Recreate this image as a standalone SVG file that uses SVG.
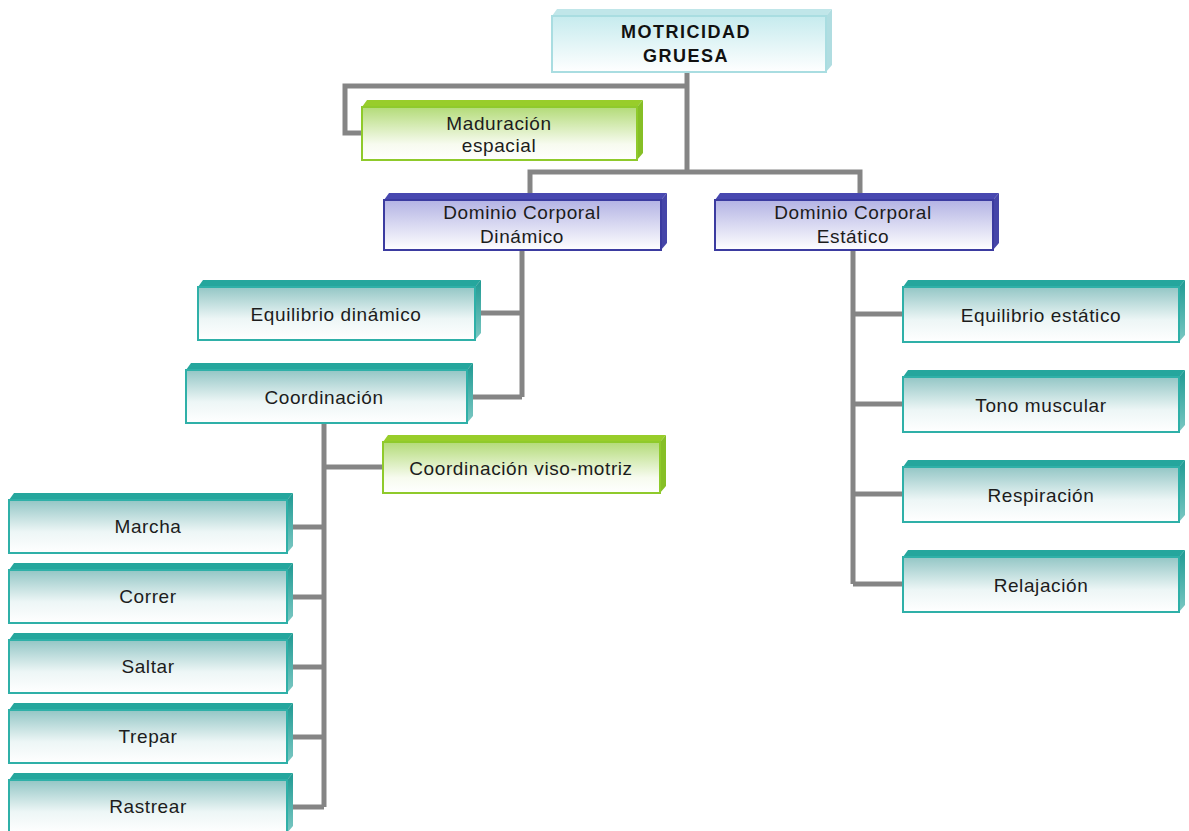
<svg xmlns="http://www.w3.org/2000/svg" width="1189" height="831" viewBox="0 0 1189 831">
<defs>
<linearGradient id="gTeal" x1="0" y1="0" x2="0" y2="1">
<stop offset="0" stop-color="#93c6c5"/><stop offset="0.6" stop-color="#edf6f6"/><stop offset="1" stop-color="#ffffff"/>
</linearGradient>
<linearGradient id="gCyan" x1="0" y1="0" x2="0" y2="1">
<stop offset="0" stop-color="#c6ebee"/><stop offset="1" stop-color="#ffffff"/>
</linearGradient>
<linearGradient id="gGreen" x1="0" y1="0" x2="0" y2="1">
<stop offset="0" stop-color="#b3db78"/><stop offset="0.7" stop-color="#f7fbef"/><stop offset="1" stop-color="#ffffff"/>
</linearGradient>
<linearGradient id="gBlue" x1="0" y1="0" x2="0" y2="1">
<stop offset="0" stop-color="#b3b3e4"/><stop offset="1" stop-color="#ffffff"/>
</linearGradient>
<linearGradient id="gTealSide" x1="0" y1="0" x2="0" y2="1">
<stop offset="0" stop-color="#1f9a93"/><stop offset="1" stop-color="#7cc8c3"/>
</linearGradient>
</defs>
<style>
.con{fill:none;stroke:#858585;stroke-width:5;stroke-linejoin:miter}
.t{font-family:"Liberation Sans",Arial,sans-serif;font-size:19px;letter-spacing:0.6px;fill:#1c1c1c;text-anchor:middle}
.tb{font-family:"Liberation Sans",Arial,sans-serif;font-size:18px;font-weight:bold;letter-spacing:1.5px;fill:#111;text-anchor:middle}
.teal .f{fill:url(#gTeal);stroke:#2fb0a8;stroke-width:2}
.teal .tp{fill:#25a69d}
.teal .sd{fill:url(#gTealSide)}
.cyan .f{fill:url(#gCyan);stroke:#a9dde1;stroke-width:2}
.cyan .tp{fill:#c0e6e9}
.cyan .sd{fill:#b0dde1}
.green .f{fill:url(#gGreen);stroke:#8fca2b;stroke-width:2}
.green .tp{fill:#98cd2a}
.green .sd{fill:#86bf26}
.blue .f{fill:url(#gBlue);stroke:#3b3ba0;stroke-width:2}
.blue .tp{fill:#4848b0}
.blue .sd{fill:#4545a8}
</style>
<rect width="1189" height="831" fill="#ffffff"/>
<g id="connectors">
<path class="con" d="M687 72 V172"/>
<path class="con" d="M687 86 H345 V133 H364"/>
<path class="con" d="M530 196 V172 H860 V196"/>
<path class="con" d="M522 250 V397"/>
<path class="con" d="M475 313 H522"/>
<path class="con" d="M467 397 H522"/>
<path class="con" d="M324 423 V807"/>
<path class="con" d="M324 467 H384"/>
<path class="con" d="M287 527 H324"/>
<path class="con" d="M287 597 H324"/>
<path class="con" d="M287 667 H324"/>
<path class="con" d="M287 737 H324"/>
<path class="con" d="M287 807 H324"/>
<path class="con" d="M853 250 V584"/>
<path class="con" d="M853 314 H904"/>
<path class="con" d="M853 404 H904"/>
<path class="con" d="M853 494 H904"/>
<path class="con" d="M853 584 H904"/>
</g>
<g id="motricidad-gruesa" class="cyan">
<polygon class="tp" points="552,16 557,9 832,9 826,16"/>
<polygon class="sd" points="826,16 832,9 832,65 826,72"/>
<rect class="f" x="552" y="16" width="274" height="56"/>
<text class="tb" x="686" y="38">MOTRICIDAD</text>
<text class="tb" x="686" y="62">GRUESA</text>
</g>
<g id="maduracion-espacial" class="green">
<polygon class="tp" points="362,107 367,100 643,100 637,107"/>
<polygon class="sd" points="637,107 643,100 643,153 637,160"/>
<rect class="f" x="362" y="107" width="275" height="53"/>
<text class="t" x="499" y="130">Maduración</text>
<text class="t" x="499" y="152">espacial</text>
</g>
<g id="dominio-dinamico" class="blue">
<polygon class="tp" points="384,200 389,193 667,193 661,200"/>
<polygon class="sd" points="661,200 667,193 667,243 661,250"/>
<rect class="f" x="384" y="200" width="277" height="50"/>
<text class="t" x="522" y="219">Dominio Corporal</text>
<text class="t" x="522" y="243">Dinámico</text>
</g>
<g id="dominio-estatico" class="blue">
<polygon class="tp" points="715,200 720,193 999,193 993,200"/>
<polygon class="sd" points="993,200 999,193 999,243 993,250"/>
<rect class="f" x="715" y="200" width="278" height="50"/>
<text class="t" x="853" y="219">Dominio Corporal</text>
<text class="t" x="853" y="243">Estático</text>
</g>
<g id="equilibrio-dinamico" class="teal">
<polygon class="tp" points="198,287 203,280 481,280 475,287"/>
<polygon class="sd" points="475,287 481,280 481,333 475,340"/>
<rect class="f" x="198" y="287" width="277" height="53"/>
<text class="t" x="336" y="321">Equilibrio dinámico</text>
</g>
<g id="coordinacion" class="teal">
<polygon class="tp" points="186,370 191,363 473,363 467,370"/>
<polygon class="sd" points="467,370 473,363 473,416 467,423"/>
<rect class="f" x="186" y="370" width="281" height="53"/>
<text class="t" x="324" y="404">Coordinación</text>
</g>
<g id="coordinacion-viso-motriz" class="green">
<polygon class="tp" points="383,442 388,435 666,435 660,442"/>
<polygon class="sd" points="660,442 666,435 666,486 660,493"/>
<rect class="f" x="383" y="442" width="277" height="51"/>
<text class="t" x="521" y="475">Coordinación viso-motriz</text>
</g>
<g id="marcha" class="teal">
<polygon class="tp" points="9,500 14,493 293,493 287,500"/>
<polygon class="sd" points="287,500 293,493 293,546 287,553"/>
<rect class="f" x="9" y="500" width="278" height="53"/>
<text class="t" x="148" y="533">Marcha</text>
</g>
<g id="correr" class="teal">
<polygon class="tp" points="9,570 14,563 293,563 287,570"/>
<polygon class="sd" points="287,570 293,563 293,616 287,623"/>
<rect class="f" x="9" y="570" width="278" height="53"/>
<text class="t" x="148" y="603">Correr</text>
</g>
<g id="saltar" class="teal">
<polygon class="tp" points="9,640 14,633 293,633 287,640"/>
<polygon class="sd" points="287,640 293,633 293,686 287,693"/>
<rect class="f" x="9" y="640" width="278" height="53"/>
<text class="t" x="148" y="673">Saltar</text>
</g>
<g id="trepar" class="teal">
<polygon class="tp" points="9,710 14,703 293,703 287,710"/>
<polygon class="sd" points="287,710 293,703 293,756 287,763"/>
<rect class="f" x="9" y="710" width="278" height="53"/>
<text class="t" x="148" y="743">Trepar</text>
</g>
<g id="rastrear" class="teal">
<polygon class="tp" points="9,780 14,773 293,773 287,780"/>
<polygon class="sd" points="287,780 293,773 293,826 287,833"/>
<rect class="f" x="9" y="780" width="278" height="53"/>
<text class="t" x="148" y="813">Rastrear</text>
</g>
<g id="equilibrio-estatico" class="teal">
<polygon class="tp" points="903,287 908,280 1185,280 1179,287"/>
<polygon class="sd" points="1179,287 1185,280 1185,335 1179,342"/>
<rect class="f" x="903" y="287" width="276" height="55"/>
<text class="t" x="1041" y="322">Equilibrio estático</text>
</g>
<g id="tono-muscular" class="teal">
<polygon class="tp" points="903,377 908,370 1185,370 1179,377"/>
<polygon class="sd" points="1179,377 1185,370 1185,425 1179,432"/>
<rect class="f" x="903" y="377" width="276" height="55"/>
<text class="t" x="1041" y="412">Tono muscular</text>
</g>
<g id="respiracion" class="teal">
<polygon class="tp" points="903,467 908,460 1185,460 1179,467"/>
<polygon class="sd" points="1179,467 1185,460 1185,515 1179,522"/>
<rect class="f" x="903" y="467" width="276" height="55"/>
<text class="t" x="1041" y="502">Respiración</text>
</g>
<g id="relajacion" class="teal">
<polygon class="tp" points="903,557 908,550 1185,550 1179,557"/>
<polygon class="sd" points="1179,557 1185,550 1185,605 1179,612"/>
<rect class="f" x="903" y="557" width="276" height="55"/>
<text class="t" x="1041" y="592">Relajación</text>
</g>
</svg>
